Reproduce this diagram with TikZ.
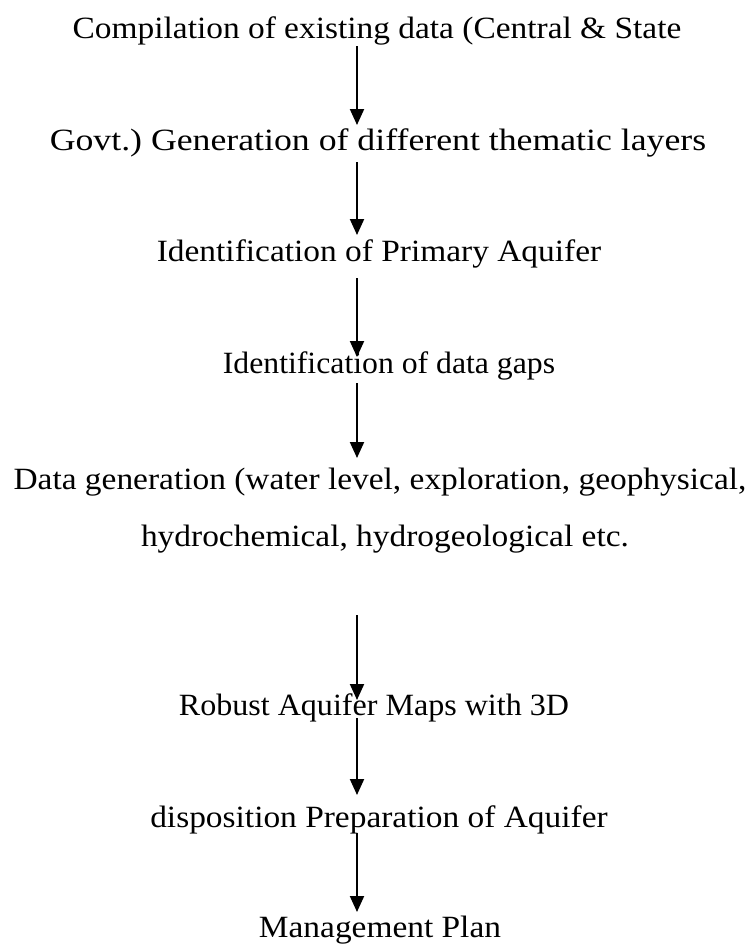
\documentclass[tikz,border=0pt]{standalone}
\usepackage{fontspec}
\setmainfont[FakeStretch=1.08]{Liberation Serif}
\frenchspacing
\usetikzlibrary{arrows.meta}
\begin{document}
\begin{tikzpicture}[x=0.75pt,y=-0.75pt,
  lbl/.style={anchor=base,inner sep=0pt,font=\fontsize{23.2pt}{27pt}\selectfont},
  arr/.style={line width=1.5pt,-{Triangle[width=10.5pt,length=12pt]}}]
\useasboundingbox (0,0) rectangle (754,946);
\node[lbl] (t1) at (377,38) {Compilation of existing data (Central \& State};
\node[lbl] (t2) at (378,150) {\scalebox{1.07}[1]{Govt.) Generation of different thematic layers}};
\node[lbl] (t3) at (379,261) {Identification of Primary Aquifer};
\node[lbl] (t4) at (389,373) {\scalebox{0.95}[1]{Identification of data gaps}};
\node[lbl] (t5) at (380,489) {Data generation (water level, exploration, geophysical,};
\node[lbl] (t6) at (385,546) {hydrochemical, hydrogeological etc.};
\node[lbl] (t7) at (374,715) {\scalebox{0.96}[1]{Robust Aquifer Maps with 3D}};
\node[lbl] (t8) at (379,827) {disposition Preparation of Aquifer};
\node[lbl] (t9) at (380,937) {Management Plan};
\coordinate (a1s) at (357,46);  \coordinate (a1e) at (357,125);
\coordinate (a2s) at (357,162); \coordinate (a2e) at (357,235);
\coordinate (a3s) at (357,278); \coordinate (a3e) at (357,357);
\coordinate (a4s) at (357,383); \coordinate (a4e) at (357,458);
\coordinate (a5s) at (357,615); \coordinate (a5e) at (357,700);
\coordinate (a6s) at (357,718); \coordinate (a6e) at (357,795);
\coordinate (a7s) at (357,833); \coordinate (a7e) at (357,912);
\draw[arr] (a1s) -- (a1e);
\draw[arr] (a2s) -- (a2e);
\draw[arr] (a3s) -- (a3e);
\draw[arr] (a4s) -- (a4e);
\draw[arr] (a5s) -- (a5e);
\draw[arr] (a6s) -- (a6e);
\draw[arr] (a7s) -- (a7e);
\end{tikzpicture}
\end{document}
